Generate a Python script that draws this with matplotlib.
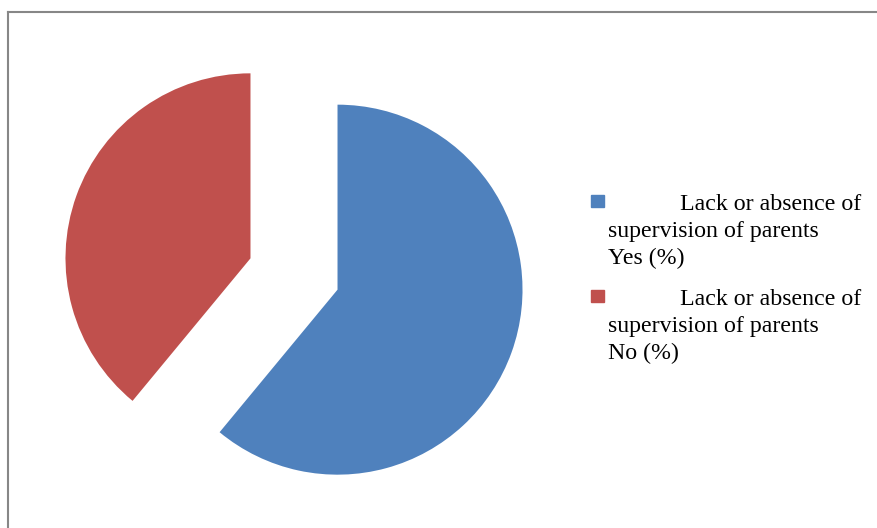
import matplotlib
matplotlib.use("Agg")
import matplotlib.pyplot as plt
from matplotlib.lines import Line2D
from matplotlib.patches import Rectangle

labels = ["Lack or absence of\nsupervision of parents\nYes (%)",
          "Lack or absence of\nsupervision of parents\nNo (%)"]
values = [61, 39]
colors = ["#4F81BD", "#C0504D"]

W, H = 877, 528
fig = plt.figure(figsize=(W / 100, H / 100), dpi=100)

# pie axes: centre at (294, 274) px, radius 185 px
R = 185
lim = 1.3
side = 2 * lim * R
ax = fig.add_axes([(294 - side / 2) / W, 1 - (274 + side / 2) / H, side / W, side / H])
ax.pie(values, colors=colors, startangle=90, counterclock=False,
       explode=[0.25, 0.25], radius=1)
ax.set_xlim(-lim, lim)
ax.set_ylim(-lim, lim)
ax.set_aspect("equal")
ax.axis("off")

# legend, drawn by hand to keep the odd word-wrapped layout
for i, (lab, col) in enumerate(zip(labels, colors)):
    sq_top = 195 + i * 95
    fig.add_artist(Rectangle((591 / W, 1 - (sq_top + 12) / H), 13 / W, 12 / H,
                             transform=fig.transFigure, color=col))
    base = 210 + i * 95
    lines = lab.split("\n")
    fig.text(680 / W, 1 - base / H, lines[0], family="Liberation Serif",
             fontsize=17.2, va="baseline", ha="left")
    for j, t in enumerate(lines[1:], start=1):
        fig.text(608 / W, 1 - (base + 27 * j) / H, t, family="Liberation Serif",
                 fontsize=17.2, va="baseline", ha="left")

# chart frame (cut off at right and bottom)
fig.add_artist(Line2D([8 / W, 8 / W], [0, 1 - 12 / H], color="#878787", lw=1.5))
fig.add_artist(Line2D([8 / W, 1], [1 - 12 / H, 1 - 12 / H], color="#878787", lw=1.5))

fig.savefig("out.png", dpi=100)
